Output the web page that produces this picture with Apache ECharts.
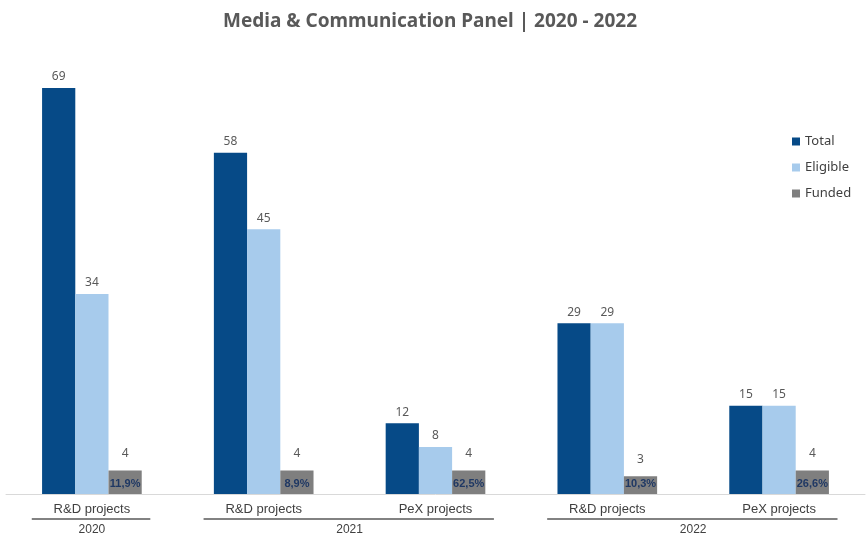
<!DOCTYPE html>
<html>
<head>
<meta charset="utf-8">
<script src="https://cdn.jsdelivr.net/npm/echarts@6/dist/echarts.min.js"></script>
<style>
  html, body { margin: 0; padding: 0; background: #fff; }
  #container1 { width: 866px; height: 538px; }
</style>
</head>
<body>
<div id="container1"></div>
<script>
// categories and values
var categories = ['R&D projects', 'R&D projects', 'PeX projects', 'R&D projects', 'PeX projects'];
var totalData = [69, 58, 12, 29, 15];
var eligibleData = [34, 45, 8, 29, 15];
var fundedData = [4, 4, 4, 3, 4];
var fundedShare = ['11,9%', '8,9%', '62,5%', '10,3%', '26,6%'];
// year groups: label + [first category, last category + 1]
var years = ['2020', '2021', '2022'];
var yearSpans = [[0, 1], [1, 3], [3, 5]];

var dom = document.getElementById('container1');
var myChart = echarts.init(dom);

var labelFont = "'Liberation Sans', sans-serif";
var textFont = "'Noto Sans', sans-serif";
var yearCenters = yearSpans.map(function (s) { return (s[0] + s[1]) / 2; });

var valueLabel = { show: true, position: 'top', distance: 5, fontSize: 12, color: '#595959', fontFamily: textFont };

var option = {
    animation: false,
    title: {
        text: 'Media & Communication Panel | 2020 - 2022',
        left: 425,
        textAlign: 'center',
        top: 7,
        textStyle: {
            fontFamily: textFont,
            fontSize: 19,
            fontWeight: 'bold',
            color: '#595959'
        }
    },
    legend: {
        data: ['Total', 'Eligible', 'Funded'],
        orient: 'vertical',
        left: 787,
        top: 130,
        icon: 'rect',
        itemWidth: 8,
        itemHeight: 8,
        itemGap: 13,
        textStyle: { fontFamily: textFont, fontSize: 13, color: '#404040' }
    },
    grid: { left: 6, right: 1, top: 82, bottom: 44 },
    xAxis: [
        {
            type: 'category',
            data: categories,
            axisLine: { lineStyle: { color: '#d9d9d9', width: 1 } },
            axisTick: { show: false },
            axisLabel: { margin: 9, fontSize: 13, color: '#404040', fontFamily: labelFont }
        },
        {
            // hidden twin axis, carries the percentage labels
            type: 'category',
            data: categories,
            show: false
        },
        {
            // year row
            type: 'value',
            min: 0,
            max: categories.length,
            position: 'bottom',
            axisLine: { show: false },
            axisTick: { show: false },
            splitLine: { show: false },
            axisLabel: {
                customValues: yearCenters,
                margin: 30,
                fontSize: 12,
                color: '#404040',
                fontFamily: labelFont,
                formatter: function (v) {
                    var i = yearCenters.indexOf(v);
                    return i >= 0 ? years[i] : '';
                }
            }
        }
    ],
    yAxis: {
        type: 'value',
        min: 0,
        max: 70,
        show: false,
        splitLine: { show: false }
    },
    series: [
        {
            name: 'Total', type: 'bar', data: totalData, barGap: 0, barCategoryGap: '42%',
            itemStyle: { color: '#064a87' },
            label: valueLabel
        },
        {
            name: 'Eligible', type: 'bar', data: eligibleData, barGap: 0, barCategoryGap: '42%',
            itemStyle: { color: '#a7cbec' },
            label: valueLabel
        },
        {
            name: 'Funded', type: 'bar', data: fundedData, barGap: 0, barCategoryGap: '42%',
            itemStyle: { color: '#7f7f7f' },
            label: echarts.util.extend(echarts.util.clone(valueLabel), { distance: 11 })
        },
        // twin series on the hidden axis, only for the percentage inside the funded bar
        { name: 'pad1', type: 'bar', xAxisIndex: 1, data: fundedData.map(function () { return '-'; }), barGap: 0, barCategoryGap: '42%' },
        { name: 'pad2', type: 'bar', xAxisIndex: 1, data: fundedData.map(function () { return '-'; }), barGap: 0, barCategoryGap: '42%' },
        {
            name: 'share', type: 'bar', xAxisIndex: 1, data: fundedData, barGap: 0, barCategoryGap: '42%',
            itemStyle: { color: 'rgba(0,0,0,0)' },
            silent: true,
            label: {
                show: true,
                position: 'insideBottom',
                distance: 5,
                fontSize: 11,
                fontWeight: 'bold',
                color: '#1f3864',
                fontFamily: labelFont,
                formatter: function (p) { return fundedShare[p.dataIndex]; }
            }
        }
    ]
};

myChart.setOption(option);

// underline for each year group, placed through the year axis
var groupLines = yearSpans.map(function (s) {
    var x1 = myChart.convertToPixel({ xAxisIndex: 2 }, s[0] + 0.15);
    var x2 = myChart.convertToPixel({ xAxisIndex: 2 }, s[1] - 0.16);
    return {
        type: 'line',
        shape: { x1: x1, y1: 519, x2: x2, y2: 519 },
        style: { stroke: '#595959', lineWidth: 1.5 }
    };
});
myChart.setOption({ graphic: groupLines });
</script>
</body>
</html>
